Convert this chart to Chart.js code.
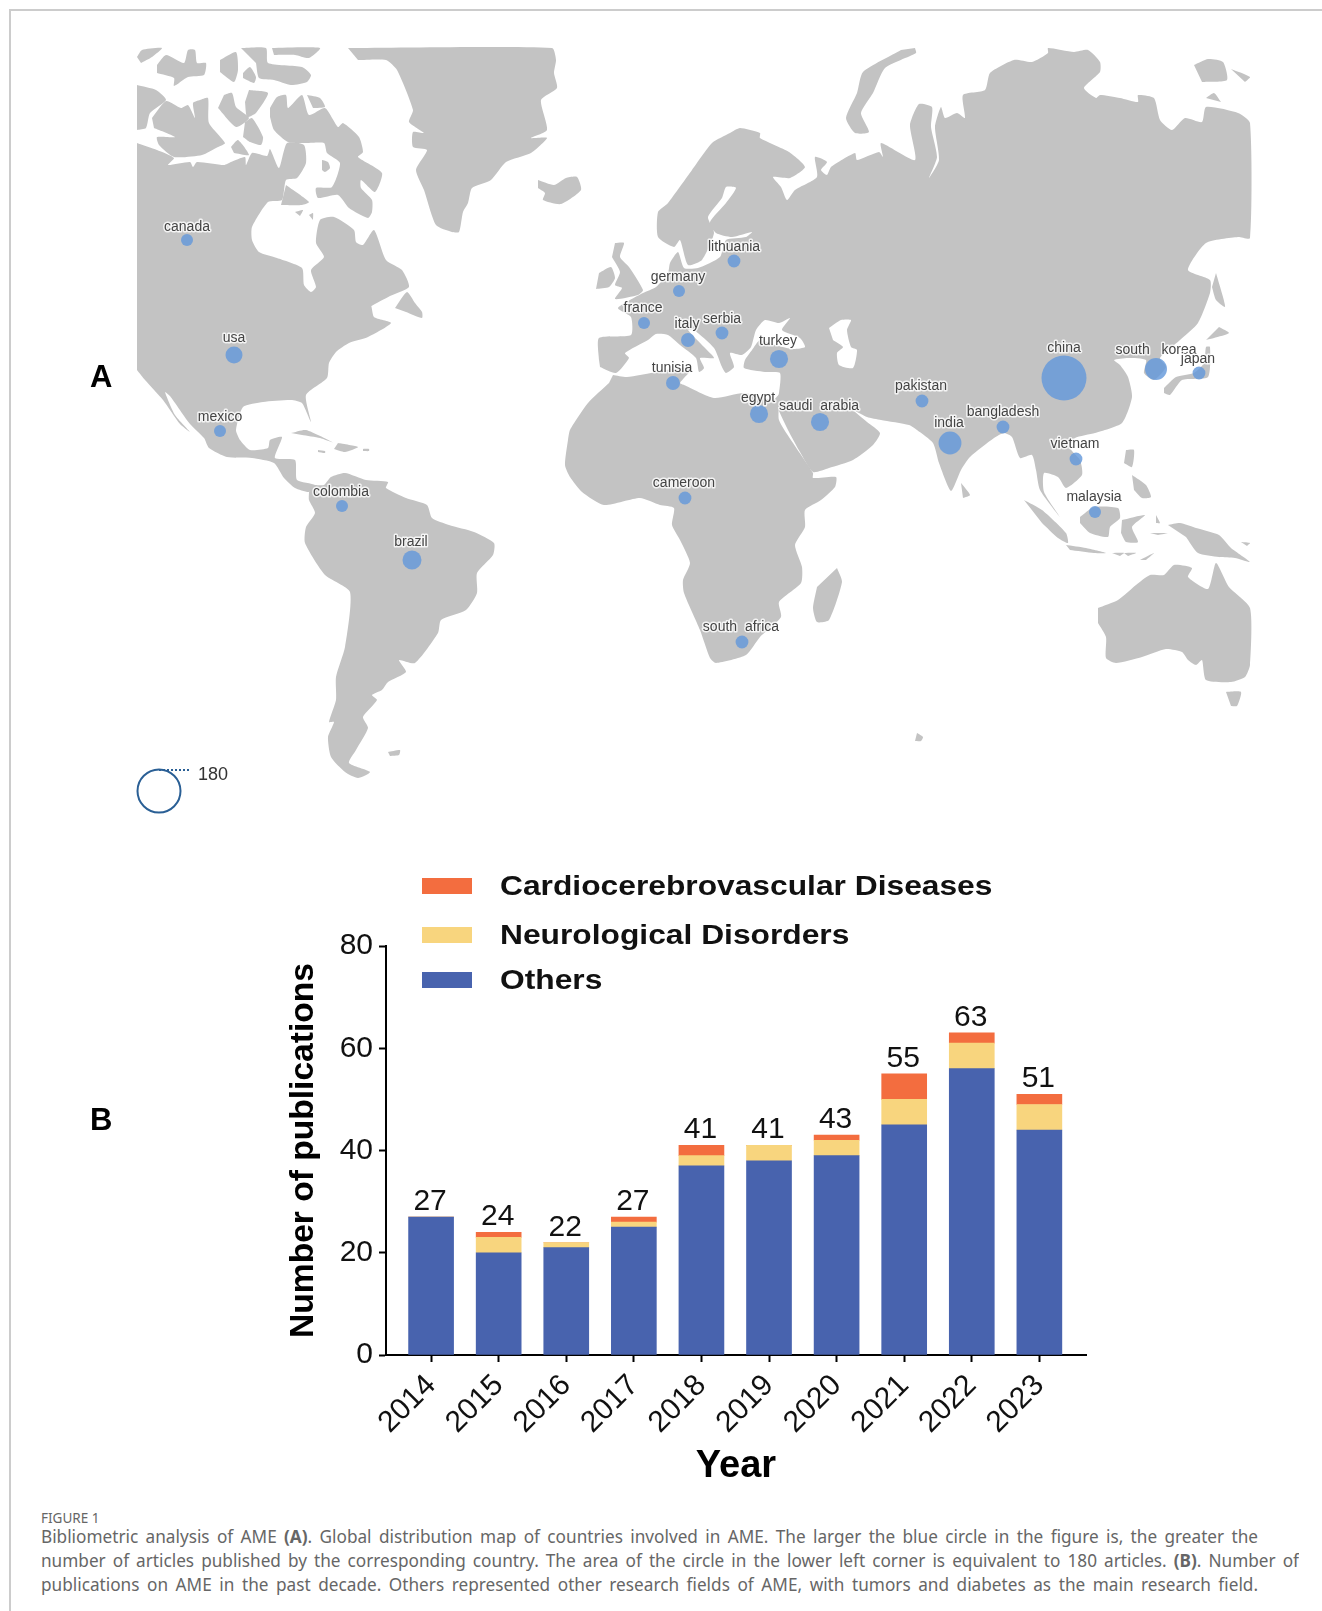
<!DOCTYPE html>
<html>
<head>
<meta charset="utf-8">
<title>Figure 1</title>
<script src="https://cdn.jsdelivr.net/npm/chart.js@4"></script>
<style>
html, body { margin: 0; padding: 0; background: #fff; }
#page { position: relative; width: 1322px; height: 1611px; overflow: hidden; background: #fff; }
#frame { position: absolute; left: 9px; top: 9px; width: 1320px; height: 1610px; border-left: 2px solid #ccc; border-top: 2px solid #ccc; }
canvas { position: absolute; left: 0; }
#mapChart { top: 0; }
#barChart { top: 840px; }
.panel { position: absolute; font: bold 31px "Liberation Sans", Arial, sans-serif; color: #000; }
.legend-box { position: absolute; left: 422px; width: 50px; height: 16px; }
.legend-text { position: absolute; left: 500px; font: bold 28px "Liberation Sans", Arial, sans-serif; color: #111; white-space: nowrap; line-height: 32px; transform: scaleX(1.134); transform-origin: left center; }
.cap { position: absolute; left: 41px; font: 17.2px "Noto Sans", sans-serif; color: #666; text-align-last: justify; line-height: 24px; height: 24px; overflow: hidden; }
#figno { position: absolute; left: 41px; top: 1509px; font: 13.5px "Noto Sans", sans-serif; color: #666; line-height: 18px; }
</style>
</head>
<body>
<div id="page">
  <div id="frame"></div>
  <canvas id="mapChart" width="1322" height="840"></canvas>
  <canvas id="barChart" width="1322" height="660"></canvas>
  <div class="panel" style="left:90px;top:359px">A</div>
  <div class="panel" style="left:90px;top:1102px">B</div>
  <div id="legend"></div>
  <div id="figno">FIGURE 1</div>
  <div class="cap" style="top:1525px;width:1217px">Bibliometric analysis of AME <b>(A)</b>. Global distribution map of countries involved in AME. The larger the blue circle in the figure is, the greater the</div>
  <div class="cap" style="top:1549px;width:1258px">number of articles published by the corresponding country. The area of the circle in the lower left corner is equivalent to 180 articles. <b>(B)</b>. Number of</div>
  <div class="cap" style="top:1573px;width:1217px">publications on AME in the past decade. Others represented other research fields of AME, with tumors and diabetes as the main research field.</div>
</div>
<script>
// bar chart values
var years = [2014, 2015, 2016, 2017, 2018, 2019, 2020, 2021, 2022, 2023];
var others = [27, 20, 21, 25, 37, 38, 39, 45, 56, 44];
var neurological = [0, 3, 1, 1, 2, 3, 3, 5, 5, 5];
var cardio = [0, 1, 0, 1, 2, 0, 1, 5, 2, 2];
var totals = [27, 24, 22, 27, 41, 41, 43, 55, 63, 51];
var yTicks = [0, 20, 40, 60, 80];

// countries on the map, read in map units
var countries = ['canada', 'usa', 'mexico', 'colombia', 'brazil', 'france', 'germany', 'lithuania', 'italy', 'serbia', 'turkey', 'tunisia', 'egypt', 'saudi  arabia', 'cameroon', 'south  africa', 'pakistan', 'india', 'bangladesh', 'china', 'vietnam', 'malaysia', 'south   korea', 'japan'];
var countryX = [187, 234, 220, 342, 412, 644, 679, 734, 688, 722, 779, 673, 759, 820, 685, 742, 922, 950, 1003, 1064, 1076, 1095, 1156, 1199];
var countryY = [240, 355, 431, 506, 560, 323, 291, 261, 340, 333, 359, 383, 414, 422, 498, 642, 401, 443, 427, 378, 459, 512, 369, 373];
var countryCount = [14, 28, 14, 14, 35, 14, 14, 16, 19, 16, 32, 19, 32, 32, 16, 16, 16, 51, 16, 197, 16, 14, 47, 16];
var labelX = [187, 234, 220, 341, 411, 643, 678, 734, 687, 722, 778, 672, 758, 819, 684, 741, 921, 949, 1003, 1064, 1075, 1094, 1156, 1198];
var labelY = [227, 338, 417, 492, 542, 308, 277, 247, 324, 319, 341, 368, 398, 406, 483, 627, 386, 423, 412, 348, 444, 497, 350, 359];
var refCount = 180;
var refCircle = [[159, 791]];
var refDots = [[159, 770], [190, 770]];

// land outlines in map units
var northAmerica = [[137,143],[157,150],[174,158],[168,165],[190,162],[193,167],[197,162],[224,165],[231,162],[245,157],[246,165],[252,153],[267,156],[270,149],[279,168],[287,143],[304,145],[306,163],[297,178],[286,180],[282,200],[268,202],[252,227],[252,240],[259,252],[277,258],[302,268],[304,285],[311,292],[316,287],[311,270],[324,257],[316,243],[320,220],[334,217],[354,230],[356,242],[363,245],[374,230],[386,260],[402,270],[409,287],[390,296],[349,318],[370,303],[374,317],[391,323],[368,337],[349,343],[336,352],[329,363],[327,378],[306,395],[311,422],[302,403],[291,400],[263,402],[243,407],[236,430],[240,440],[250,450],[268,448],[270,440],[282,437],[275,458],[295,460],[297,480],[315,485],[309,492],[295,488],[284,478],[274,463],[252,458],[227,457],[209,448],[204,438],[190,424],[170,396],[165,392],[175,415],[190,432],[180,424],[163,400],[145,380],[137,370]];
var arctic1 = [[137,57],[142,50],[162,48],[152,57],[141,63]];
var arctic2 = [[157,65],[166,55],[184,63],[188,50],[195,50],[197,63],[206,63],[204,75],[188,77],[174,86],[174,78],[157,73]];
var arctic3 = [[220,60],[236,52],[238,70],[234,82],[220,72]];
var arctic4 = [[241,48],[266,48],[268,63],[302,67],[311,75],[307,82],[291,85],[274,80],[259,78],[256,63]];
var arctic5 = [[272,48],[320,48],[309,58],[295,55],[274,55]];
var arctic6 = [[243,73],[250,67],[256,77],[254,83],[243,78]];
var banks = [[137,85],[156,90],[166,100],[150,113],[146,128],[137,130]];
var victoria = [[152,118],[166,101],[181,108],[188,105],[195,118],[193,103],[200,100],[208,98],[209,123],[225,143],[218,147],[202,155],[174,157],[159,145],[157,137],[175,137],[154,128]];
var arctic7 = [[224,95],[232,93],[236,107],[249,118],[236,127],[218,108]];
var arctic8 = [[249,90],[268,93],[256,113],[247,117],[245,102]];
var arctic9 = [[245,122],[252,118],[263,137],[261,145],[250,142],[243,137]];
var arctic10 = [[231,147],[238,140],[249,155],[234,153]];
var baffin = [[270,108],[277,97],[286,95],[288,108],[302,95],[309,115],[325,108],[338,127],[343,123],[359,137],[363,152],[358,157],[382,173],[375,192],[361,180],[361,188],[372,200],[372,212],[368,218],[349,208],[338,195],[318,198],[316,188],[332,187],[340,163],[327,153],[324,143],[306,143],[288,142],[274,130],[270,117]];
var devon = [[307,95],[320,98],[325,107],[313,108]];
var southampton = [[286,185],[309,202],[302,205],[281,205]];
var foxe = [[322,160],[328,162],[330,168],[325,172],[322,170]];
var belcher1 = [[295,212],[303,210],[300,216]];
var belcher2 = [[309,215],[313,213],[313,220]];
var newfoundland = [[395,308],[407,292],[415,303],[422,312],[422,318],[406,312]];
var greenland = [[348,48],[552,48],[556,60],[554,73],[557,88],[541,100],[547,130],[531,138],[547,138],[531,153],[506,162],[491,180],[472,188],[468,203],[463,212],[459,232],[452,232],[436,225],[424,190],[416,170],[427,150],[413,147],[413,132],[424,133],[409,122],[413,110],[397,70],[386,60],[358,60]];
var iceland = [[538,180],[554,185],[566,178],[577,177],[581,190],[561,204],[543,200],[545,193],[538,188]];
var britain = [[615,243],[624,243],[620,257],[629,267],[643,290],[638,295],[615,299],[622,288],[615,285],[620,272],[612,257]];
var ireland = [[599,273],[611,267],[615,278],[609,287],[596,289]];
var eurasia = [[600,367],[616,373],[629,358],[625,353],[648,340],[656,334],[668,335],[680,345],[696,358],[699,372],[704,368],[700,358],[714,358],[704,347],[688,330],[694,330],[714,348],[722,367],[726,373],[734,367],[730,353],[742,355],[751,347],[756,330],[765,320],[779,323],[790,318],[782,330],[800,338],[805,347],[793,349],[775,345],[760,340],[752,350],[745,360],[744,368],[765,372],[780,373],[779,393],[776,403],[788,430],[800,452],[813,472],[829,468],[853,460],[873,445],[880,433],[867,422],[849,407],[839,402],[867,417],[881,420],[909,425],[917,430],[933,443],[939,463],[951,491],[961,470],[970,457],[994,438],[1004,433],[1012,437],[1020,458],[1032,455],[1036,470],[1040,490],[1060,517],[1044,492],[1044,473],[1058,477],[1066,488],[1082,475],[1080,460],[1070,448],[1075,438],[1095,433],[1122,423],[1132,397],[1128,377],[1120,365],[1114,360],[1128,358],[1146,360],[1144,373],[1154,380],[1166,367],[1160,358],[1180,340],[1198,323],[1210,293],[1210,280],[1188,270],[1206,243],[1238,237],[1250,238],[1250,123],[1238,113],[1206,107],[1202,122],[1185,118],[1172,130],[1160,120],[1154,98],[1138,95],[1138,102],[1120,98],[1100,95],[1096,98],[1084,88],[1100,72],[1100,62],[1088,50],[1074,52],[1048,48],[1048,53],[1032,62],[1014,60],[990,73],[985,90],[963,95],[965,118],[957,113],[945,118],[941,107],[935,127],[939,160],[929,178],[937,157],[931,127],[932,107],[919,104],[910,125],[915,160],[881,143],[883,157],[879,152],[857,160],[855,153],[831,167],[827,175],[821,170],[827,162],[815,157],[817,177],[795,190],[787,200],[781,187],[773,177],[790,178],[805,167],[789,152],[760,138],[760,133],[740,128],[730,133],[712,143],[692,170],[668,203],[658,212],[658,237],[674,247],[680,240],[688,265],[702,260],[714,233],[708,217],[722,198],[726,187],[736,188],[726,203],[710,222],[716,233],[732,237],[752,232],[746,237],[726,240],[720,257],[698,268],[684,268],[678,252],[670,263],[668,273],[656,287],[643,293],[618,308],[631,317],[631,335],[599,338],[599,360]];
var caspian = [[829,328],[841,320],[851,320],[847,330],[851,347],[857,350],[853,368],[839,365],[837,353],[843,347],[833,340]];
var honshu = [[1164,388],[1176,377],[1194,373],[1204,363],[1206,347],[1210,347],[1208,377],[1182,380],[1170,395],[1164,393]];
var hokkaido = [[1219,327],[1229,333],[1214,338],[1206,340]];
var sakhalin = [[1216,273],[1223,297],[1225,307],[1216,300],[1212,287]];
var novayaZemlya = [[915,48],[916,53],[885,68],[873,93],[861,113],[869,132],[855,133],[846,118],[857,93],[863,72],[901,50]];
var siberianIs1 = [[1194,65],[1208,59],[1223,62],[1227,80],[1202,82]];
var siberianIs2 = [[1231,69],[1250,77],[1245,82]];
var siberianIs3 = [[1206,98],[1214,93],[1221,102]];
var africa = [[613,375],[627,377],[656,372],[666,370],[692,368],[680,383],[684,385],[714,398],[744,393],[773,400],[779,395],[779,420],[793,443],[813,473],[813,478],[836,477],[835,487],[821,500],[805,510],[805,527],[795,545],[802,567],[801,583],[779,602],[781,617],[760,637],[746,655],[716,663],[710,658],[700,630],[684,593],[683,580],[690,563],[680,540],[672,525],[674,508],[660,505],[640,498],[604,505],[582,492],[570,477],[565,465],[568,440],[570,430],[588,403],[609,383]];
var southAmerica = [[315,485],[324,485],[331,477],[345,473],[366,480],[388,482],[386,488],[406,498],[427,505],[432,518],[449,525],[474,532],[494,543],[493,555],[477,573],[477,593],[466,610],[441,620],[438,633],[415,663],[399,660],[406,672],[388,682],[382,690],[372,695],[377,700],[363,717],[368,728],[356,750],[349,763],[370,772],[358,778],[345,772],[331,757],[328,737],[334,722],[329,722],[336,700],[336,677],[345,647],[350,592],[325,575],[305,543],[306,527],[315,513],[309,500],[309,492]];
var falkland = [[388,752],[400,750],[399,755],[390,756]];
var cuba = [[291,433],[306,430],[334,443],[320,438],[302,435]];
var hispaniola = [[338,443],[358,447],[345,452],[334,449]];
var puertoRico = [[363,449],[369,449],[369,451],[363,451]];
var jamaica = [[318,450],[325,451],[325,453],[318,452]];
var madagascar = [[837,568],[842,582],[829,620],[817,622],[813,608],[817,587]];
var sriLanka = [[961,483],[970,495],[963,498]];
var sumatra = [[1024,500],[1042,510],[1066,533],[1068,543],[1058,538],[1042,523]];
var java = [[1066,545],[1086,548],[1106,553],[1094,553],[1070,550]];
var borneo = [[1080,517],[1094,507],[1118,508],[1120,518],[1110,527],[1108,537],[1090,533],[1080,523]];
var luzon = [[1126,450],[1134,450],[1132,467],[1124,463]];
var mindanao = [[1132,475],[1146,485],[1151,497],[1142,498],[1134,490]];
var sulawesi = [[1122,520],[1145,515],[1132,527],[1138,542],[1126,542],[1121,533]];
var papua = [[1168,525],[1180,523],[1196,528],[1219,535],[1231,548],[1250,562],[1235,558],[1219,557],[1198,553],[1186,537]];
var sunda1 = [[1112,553],[1124,553],[1120,556]];
var sunda2 = [[1124,553],[1136,553],[1128,556]];
var timor = [[1140,560],[1154,553],[1146,560]];
var halmahera = [[1156,515],[1160,523],[1156,523]];
var seram = [[1150,533],[1168,533],[1158,535]];
var bismarck = [[1241,542],[1250,543],[1247,546]];
var australia = [[1098,608],[1118,600],[1136,585],[1150,575],[1164,575],[1174,565],[1192,568],[1188,577],[1208,589],[1216,563],[1229,587],[1250,608],[1250,665],[1245,677],[1231,682],[1206,680],[1202,660],[1196,665],[1188,660],[1182,652],[1166,649],[1142,657],[1116,663],[1106,658],[1106,637],[1098,623]];
var tasmania = [[1226,692],[1241,692],[1237,706],[1231,706]];
var kerguelen = [[917,733],[923,737],[921,741],[915,741]];

var lands = [northAmerica, arctic1, arctic2, arctic3, arctic4, arctic5, arctic6, banks, victoria, arctic7, arctic8, arctic9, arctic10, baffin, devon, southampton, foxe, belcher1, belcher2, newfoundland, greenland, iceland, britain, ireland, eurasia, honshu, hokkaido, sakhalin, novayaZemlya, siberianIs1, siberianIs2, siberianIs3, africa, southAmerica, falkland, cuba, hispaniola, puertoRico, jamaica, madagascar, sriLanka, sumatra, java, borneo, luzon, mindanao, sulawesi, papua, sunda1, sunda2, timor, halmahera, seram, bismarck, australia, tasmania, kerguelen];

var landColor = '#c3c3c3';
var refRadius = 21.5;

function shapeDataset(points, color) {
    return {
        type: 'scatter',
        data: points,
        showLine: true,
        fill: 'shape',
        tension: 0.2,
        backgroundColor: color,
        borderWidth: 0,
        pointRadius: 0
    };
}

var bubbles = [];
for (let i in countries) {
    bubbles.push({ x: countryX[i], y: countryY[i], r: refRadius * Math.sqrt(countryCount[i] / refCount) });
}

var mapDatasets = [
    {
        type: 'bubble',
        data: bubbles,
        backgroundColor: 'rgba(100,152,218,0.82)',
        borderWidth: 0
    },
    {
        type: 'bubble',
        data: [{ x: refCircle[0][0], y: refCircle[0][1], r: refRadius }],
        backgroundColor: 'rgba(0,0,0,0)',
        borderColor: '#2a5f95',
        borderWidth: 2
    },
    {
        type: 'scatter',
        data: refDots,
        showLine: true,
        borderColor: '#2a5f95',
        borderWidth: 2,
        borderDash: [2, 2],
        pointRadius: 0
    },
    shapeDataset(caspian, '#ffffff')
];
for (let i in lands) {
    mapDatasets.push(shapeDataset(lands[i], landColor));
}

// country names and the 180 next to the reference circle
var mapLabels = {
    id: 'mapLabels',
    afterDatasetsDraw(chart) {
        var ctx = chart.ctx;
        var sx = chart.scales.x;
        var sy = chart.scales.y;
        ctx.save();
        ctx.textAlign = 'center';
        ctx.textBaseline = 'middle';
        ctx.lineJoin = 'round';
        ctx.font = '14px "Liberation Sans", Arial, sans-serif';
        for (let i in countries) {
            let x = sx.getPixelForValue(labelX[i]);
            let y = sy.getPixelForValue(labelY[i]);
            ctx.strokeStyle = 'rgba(255,255,255,0.8)';
            ctx.lineWidth = 3;
            ctx.strokeText(countries[i], x, y);
            ctx.fillStyle = '#444';
            ctx.fillText(countries[i], x, y);
        }
        ctx.font = '18px "Liberation Sans", Arial, sans-serif';
        ctx.fillStyle = '#333';
        ctx.fillText(String(refCount), sx.getPixelForValue(213), sy.getPixelForValue(775));
        ctx.restore();
    }
};

new Chart(document.getElementById('mapChart').getContext('2d'), {
    type: 'scatter',
    data: { datasets: mapDatasets },
    plugins: [mapLabels],
    options: {
        responsive: false,
        animation: false,
        events: [],
        layout: { autoPadding: false, padding: 0 },
        plugins: { legend: { display: false }, tooltip: { enabled: false } },
        scales: {
            x: { type: 'linear', display: false, min: 0, max: 1322 },
            y: { type: 'linear', display: false, min: 0, max: 840, reverse: true }
        }
    }
});

var tickFont = { family: '"Liberation Sans", Arial, sans-serif', size: 30 };

function pairs(values) {
    return values.map(function (v, i) { return { x: years[i], y: v }; });
}

// totals on top of the stacks
var totalLabels = {
    id: 'totalLabels',
    afterDatasetsDraw(chart) {
        var ctx = chart.ctx;
        ctx.save();
        ctx.font = '30px "Liberation Sans", Arial, sans-serif';
        ctx.fillStyle = '#111';
        ctx.textAlign = 'center';
        ctx.textBaseline = 'alphabetic';
        for (let i in years) {
            ctx.fillText(String(totals[i]), chart.scales.x.getPixelForValue(years[i]) - 1, chart.scales.y.getPixelForValue(totals[i]) - 7);
        }
        ctx.restore();
    }
};

var barChart = new Chart(document.getElementById('barChart').getContext('2d'), {
    type: 'bar',
    data: {
        datasets: [
            { label: 'Others', data: pairs(others), backgroundColor: '#4863ae', barThickness: 45 },
            { label: 'Neurological Disorders', data: pairs(neurological), backgroundColor: '#f8d57e', barThickness: 45 },
            { label: 'Cardiocerebrovascular Diseases', data: pairs(cardio), backgroundColor: '#f36d3f', barThickness: 45 }
        ]
    },
    plugins: [totalLabels],
    options: {
        responsive: false,
        animation: false,
        events: [],
        layout: { autoPadding: false, padding: { left: 284, right: 236, top: 106, bottom: 11 } },
        plugins: { legend: { display: false }, tooltip: { enabled: false } },
        scales: {
            x: {
                type: 'linear',
                offset: false,
                stacked: true,
                min: 2013.333,
                max: 2023.69,
                border: { color: '#000', width: 2 },
                grid: { offset: false, drawOnChartArea: false, color: '#000', tickColor: '#000', tickWidth: 2, tickLength: 7 },
                afterBuildTicks: function (scale) {
                    scale.ticks = years.map(function (y) { return { value: y }; });
                },
                ticks: {
                    color: '#111',
                    font: tickFont,
                    padding: 6,
                    minRotation: 45,
                    maxRotation: 45,
                    callback: function (v) { return String(v); }
                },
                title: { display: true, text: 'Year', color: '#000', font: { family: tickFont.family, size: 38, weight: 'bold' }, padding: { top: 7, bottom: 0 } },
                afterFit: function (scale) { scale.height = 134; }
            },
            y: {
                stacked: true,
                min: 0,
                max: 80,
                border: { color: '#000', width: 2 },
                grid: { drawOnChartArea: false, color: '#000', tickColor: '#000', tickWidth: 2, tickLength: 7 },
                afterBuildTicks: function (scale) {
                    scale.ticks = yTicks.map(function (v) { return { value: v }; });
                },
                ticks: { color: '#111', font: tickFont, padding: 6 },
                title: { display: true, text: 'Number of publications', color: '#000', font: { family: tickFont.family, size: 33.6, weight: 'bold' }, padding: 0 },
                afterFit: function (scale) { scale.width = 102; }
            }
        }
    }
});

// legend rows sit at uneven distances in the figure, so it is built by hand from the datasets
var legendRowY = [980, 935, 886];
var legend = document.getElementById('legend');
barChart.data.datasets.forEach(function (ds, i) {
    var box = document.createElement('div');
    box.className = 'legend-box';
    box.style.top = (legendRowY[i] - 8) + 'px';
    box.style.background = ds.backgroundColor;
    legend.appendChild(box);
    var txt = document.createElement('div');
    txt.className = 'legend-text';
    txt.style.top = (legendRowY[i] - 16) + 'px';
    txt.innerText = ds.label;
    legend.appendChild(txt);
});
</script>
</body>
</html>
